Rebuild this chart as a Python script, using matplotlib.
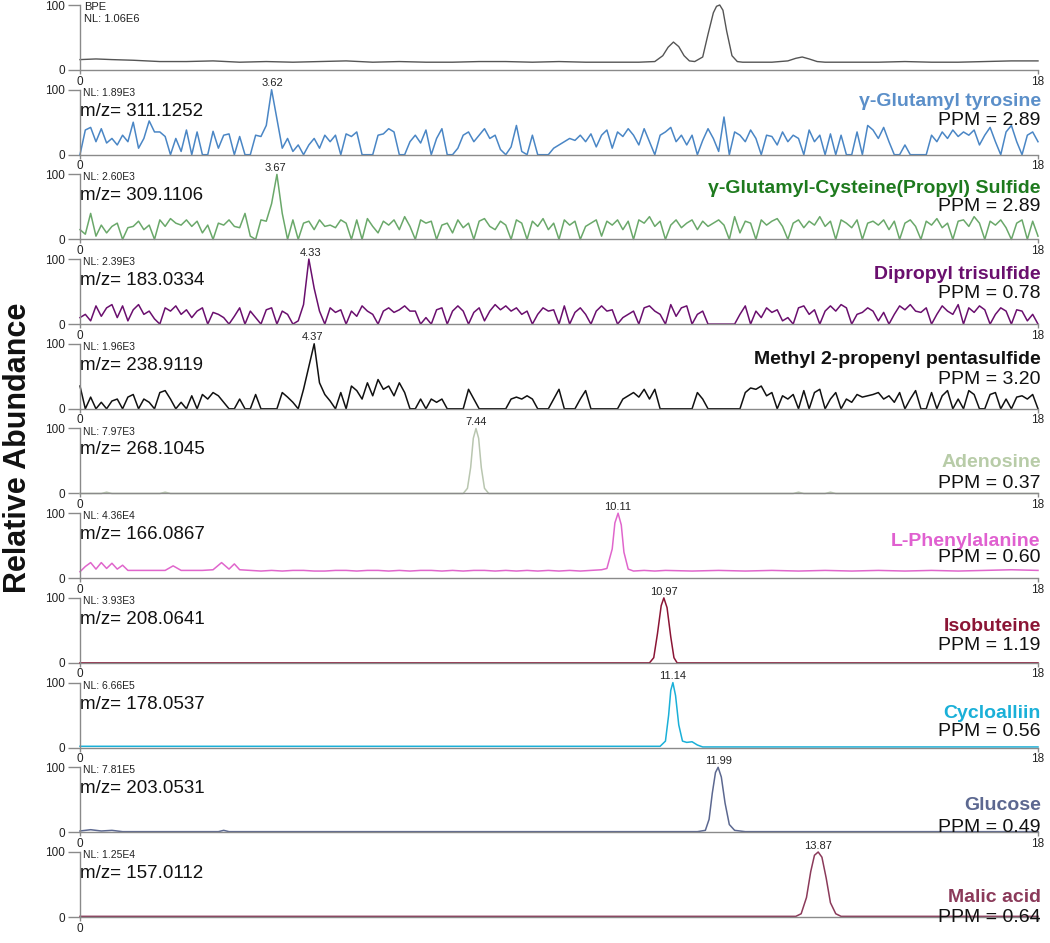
import numpy as np
import matplotlib
matplotlib.use("Agg")
import matplotlib.pyplot as plt

plt.rcParams['font.family'] = ['Liberation Sans', 'DejaVu Sans']

# ---------------- data ----------------
t_noise = np.round(np.arange(181) * 0.1, 2)

glu_tyr = [0,38,42,20,40,18,25,15,30,20,50,10,25,52,35,35,28,0,25,5,
           38,0,35,0,0,36,10,30,32,0,28,0,0,30,28,45,100,55,10,25,
           5,15,0,15,25,10,30,20,30,0,32,28,35,0,0,0,30,32,40,35,
           0,0,20,30,18,38,0,25,40,0,0,10,30,35,20,30,40,25,30,8,
           0,12,45,5,0,30,0,0,0,10,15,20,25,22,30,20,32,12,30,38,
           10,35,28,40,30,15,40,20,0,30,35,42,20,30,15,30,0,22,40,25,
           5,58,0,35,30,20,38,25,0,30,28,15,35,20,30,25,0,38,20,30,
           0,32,0,30,0,0,35,0,45,38,25,42,20,0,0,15,0,0,0,0,
           30,20,35,25,38,28,35,30,38,15,30,42,20,0,35,45,20,0,30,35,20]

glu_cys = [15,8,40,5,22,10,20,25,0,18,20,28,15,22,0,30,20,32,25,22,
           30,20,28,10,22,0,25,22,30,20,18,40,5,0,30,28,55,100,40,0,
           30,0,25,28,15,30,20,22,18,30,25,0,30,0,32,20,10,28,22,30,
           15,35,20,0,30,25,28,0,22,25,10,30,18,25,0,28,32,20,15,28,
           22,0,30,25,0,28,20,32,15,25,0,30,22,28,0,20,25,30,5,28,
           22,30,15,28,0,30,25,35,20,28,0,22,30,18,25,30,15,28,20,25,
           30,22,0,35,10,28,25,0,30,22,28,32,20,0,25,30,18,28,22,35,
           20,28,0,30,25,18,30,0,25,28,22,30,15,28,0,25,30,20,0,28,
           22,32,18,25,0,28,30,20,35,25,0,28,22,30,18,0,25,30,0,28,5]

dipropyl = [10,15,5,28,12,25,30,10,28,5,22,30,15,20,8,0,25,20,28,15,
            22,10,20,25,0,18,15,10,0,12,25,0,20,10,0,22,25,0,20,15,
            0,5,30,100,55,20,0,25,18,22,0,20,12,28,20,15,0,20,25,18,
            22,28,20,20,0,10,0,22,25,0,20,28,20,0,18,25,5,20,30,22,
            28,20,25,15,20,0,15,25,20,22,0,28,0,18,25,15,0,20,28,20,
            22,0,10,15,20,0,25,28,20,15,0,30,12,25,28,0,15,20,0,0,
            0,0,0,0,15,28,0,20,10,25,18,22,5,10,0,25,28,15,22,0,
            20,28,20,30,25,0,15,18,25,20,5,18,0,15,28,22,30,20,18,25,
            0,15,28,20,15,30,0,25,18,28,22,0,15,25,20,0,22,20,5,15,0]

pentasulfide = [35,0,18,0,10,0,12,15,0,18,22,0,15,10,0,25,28,15,0,10,
                0,20,0,22,15,25,20,10,0,0,15,0,0,22,0,0,0,0,25,18,
                10,0,30,65,100,40,22,12,0,25,
                0,35,28,15,40,20,45,30,35,20,
                40,25,0,0,15,0,15,10,15,0,
                0,0,0,30,15,0,0,0,0,0,
                0,15,18,15,20,15,0,0,0,15,
                30,0,0,0,15,28,0,0,0,0,
                0,0,15,20,25,18,30,15,30,0,
                0,0,0,0,0,0,25,15,0,0,
                0,0,0,0,0,25,32,30,35,20,
                25,0,20,15,22,0,28,0,25,30,
                0,15,25,0,15,10,22,18,20,22,
                25,15,20,10,25,0,15,28,0,0,
                25,0,20,28,0,15,0,28,22,0,
                0,22,25,0,15,0,18,20,15,22,0]

bpe_t = [0,0.3,0.6,1.0,1.5,2.0,2.5,3.0,3.5,4.0,4.5,5.0,5.5,6.0,6.5,7.0,7.5,8.0,8.5,9.0,
         9.5,10.0,10.5,10.8,10.95,11.05,11.15,11.25,11.35,11.45,11.55,11.7,11.8,11.9,11.96,
         12.02,12.08,12.15,12.25,12.35,12.45,12.7,13.0,13.3,13.45,13.57,13.7,13.85,14.0,14.5,
         15.0,15.5,16.0,16.5,17.0,17.5,18]
bpe_y = [16,17,16,15,13,13,14,12,13,12,13,14,12,13,12,12,13,13,12,13,
         12,12,12,13,22,35,43,36,22,14,13,20,55,88,98,
         100,92,60,22,13,12,12,12,14,18,20,17,13,12,12,
         12,13,12,12,13,14,14]

aden_t = [0,0.4,0.5,0.6,1.5,1.6,1.7,7.2,7.28,7.34,7.39,7.44,7.49,7.54,7.6,7.68,13.4,13.5,13.6,14.0,14.1,14.2,18]
aden_y = [0,0,2,0,0,2,0,0,8,40,85,100,85,40,8,0,0,2,0,0,2,0,0]

phe_t = [0,0.1,0.2,0.3,0.4,0.5,0.6,0.7,0.8,0.9,1.0,1.2,1.4,1.6,1.75,1.9,2.1,2.3,2.5,2.66,
         2.8,2.9,3.0,3.2,3.4,3.6,3.8,4.0,4.2,4.4,4.6,4.8,5.0,5.2,5.4,5.6,5.8,6.0,6.2,6.4,
         6.6,6.8,7.0,7.2,7.4,7.6,7.8,8.0,8.2,8.4,8.6,8.8,9.0,9.2,9.4,9.6,9.8,9.9,10.0,10.05,
         10.11,10.17,10.22,10.3,10.4,10.6,10.8,11.0,11.5,12.0,12.5,13.0,13.5,14.0,14.5,15.0,
         15.5,16.0,16.5,17.0,17.5,18]
phe_y = [10,18,24,14,24,15,23,14,20,12,12,12,12,12,19,12,12,12,13,24,
         14,22,13,12,11,12,11,12,12,11,11,12,12,11,12,12,11,12,11,12,
         12,11,12,11,12,12,11,12,11,12,11,12,11,12,11,12,13,15,45,85,
         100,82,40,14,11,12,11,12,11,12,11,12,11,12,11,12,
         11,12,11,12,13,12]

isob_t = [0,10.7,10.78,10.85,10.92,10.97,11.03,11.1,11.16,11.22,18]
isob_y = [0,0,8,45,88,100,85,40,8,0,0]

cyclo_t = [0,3,6,10.9,11.0,11.06,11.1,11.14,11.19,11.25,11.32,11.4,11.5,11.6,11.7,18]
cyclo_y = [2,2,2,2,10,50,88,100,80,35,10,8,9,4,1,1]

gluc_t = [0,0.2,0.4,0.6,0.8,2.6,2.7,2.8,11.6,11.75,11.82,11.88,11.94,11.99,12.05,12.12,12.2,12.3,12.5,18]
gluc_y = [2,4,2,3,1,1,3,1,1,3,20,60,92,100,85,45,12,3,1,1]

malic_t = [0,13.45,13.55,13.65,13.73,13.8,13.87,13.94,14.02,14.1,14.2,14.3,18]
malic_y = [1,1,5,30,70,95,100,92,60,22,5,1,1]

names = ["γ-Glutamyl tyrosine", "γ-Glutamyl-Cysteine(Propyl) Sulfide", "Dipropyl trisulfide",
         "Methyl 2-propenyl pentasulfide", "Adenosine", "L-Phenylalanine", "Isobuteine",
         "Cycloalliin", "Glucose", "Malic acid"]
mz = ["311.1252", "309.1106", "183.0334", "238.9119", "268.1045", "166.0867", "208.0641",
      "178.0537", "203.0531", "157.0112"]
ppm = ["2.89", "2.89", "0.78", "3.20", "0.37", "0.60", "1.19", "0.56", "0.49", "0.64"]
nl = ["1.89E3", "2.60E3", "2.39E3", "1.96E3", "7.97E3", "4.36E4", "3.93E3", "6.66E5", "7.81E5", "1.25E4"]
peak_rt = [3.62, 3.67, 4.33, 4.37, 7.44, 10.11, 10.97, 11.14, 11.99, 13.87]

series = [(t_noise, glu_tyr), (t_noise, glu_cys), (t_noise, dipropyl), (t_noise, pentasulfide),
          (aden_t, aden_y), (phe_t, phe_y), (isob_t, isob_y), (cyclo_t, cyclo_y),
          (gluc_t, gluc_y), (malic_t, malic_y)]

# ---------------- styles ----------------
line_colors = ["#4a86c5", "#6aa86a", "#6a0f6e", "#111111", "#b9c6b0", "#e066cc",
               "#8b1535", "#1ab0d8", "#5c6890", "#8b3a5a"]
name_colors = ["#5b8fc9", "#1e7a1e", "#6a0f6e", "#111111", "#b8cca8", "#e060d0",
               "#8b1535", "#1ab0d8", "#5c6890", "#8b3a5a"]
name_y = [82, 79, 76, 76, 48, 56, 56, 53, 41, 30]
ppm_y = [52, 50, 47, 45, 15, 32, 27, 24, 8, 0]

W, H = 1050, 943
fig = plt.figure(figsize=(W / 100, H / 100), dpi=100)

left_px, right_px = 80, 1038
step_px, h_px = 84.7, 65
spine_c = "#8a8a8a"


def make_ax(k, last=False):
    zero_px = 70 + step_px * k
    ax = fig.add_axes([left_px / W, 1 - zero_px / H, (right_px - left_px) / W, h_px / H])
    ax.set_xlim(0, 18)
    ax.set_ylim(0, 100)
    for s in ["top", "right"]:
        ax.spines[s].set_visible(False)
    for s in ["left", "bottom"]:
        ax.spines[s].set_color(spine_c)
        ax.spines[s].set_linewidth(1.0)
    ax.set_yticks([0, 100])
    ax.set_yticklabels(["0", "100"])
    ax.set_xticks([0, 18])
    ax.set_xticklabels(["0", "" if last else "18"])
    ax.tick_params(axis="y", length=9, width=1.0, color=spine_c, labelsize=8.5,
                   labelcolor="#222", pad=2)
    ax.tick_params(axis="x", length=3, width=1.0, color=spine_c, labelsize=8.5,
                   labelcolor="#222", pad=1)
    ax.patch.set_visible(False)
    return ax


# top BPE panel
ax0 = make_ax(0)
ax0.plot(bpe_t, bpe_y, color="#555555", lw=1.0, clip_on=False)
ax0.text(0.08, 104, "BPE\nNL: 1.06E6", fontsize=8, va="top", ha="left", color="#222",
         linespacing=1.15)

for i in range(10):
    ax = make_ax(i + 1, last=(i == 9))
    tx, ty = series[i]
    ax.plot(tx, ty, color=line_colors[i], lw=1.1, clip_on=False)
    ax.text(0.05, 103, "NL: " + nl[i], fontsize=7.5, va="top", ha="left", color="#222")
    ax.text(0.0, 67, "m/z= " + mz[i], fontsize=13.5, va="center", ha="left", color="#111")
    ax.text(peak_rt[i], 102, f"{peak_rt[i]:.2f}", fontsize=8, va="bottom", ha="center",
            color="#222")
    ax.text(18.05, name_y[i], names[i], fontsize=14, fontweight="bold", va="center",
            ha="right", color=name_colors[i], clip_on=False)
    ax.text(18.05, ppm_y[i], "PPM = " + ppm[i], fontsize=14, va="center", ha="right",
            color="#111", clip_on=False)

fig.text(18 / W, 1 - 448 / H, "Relative Abundance", rotation=90, fontsize=22,
         fontweight="bold", va="center", ha="center", color="#111")

fig.savefig("out.png", dpi=100)
